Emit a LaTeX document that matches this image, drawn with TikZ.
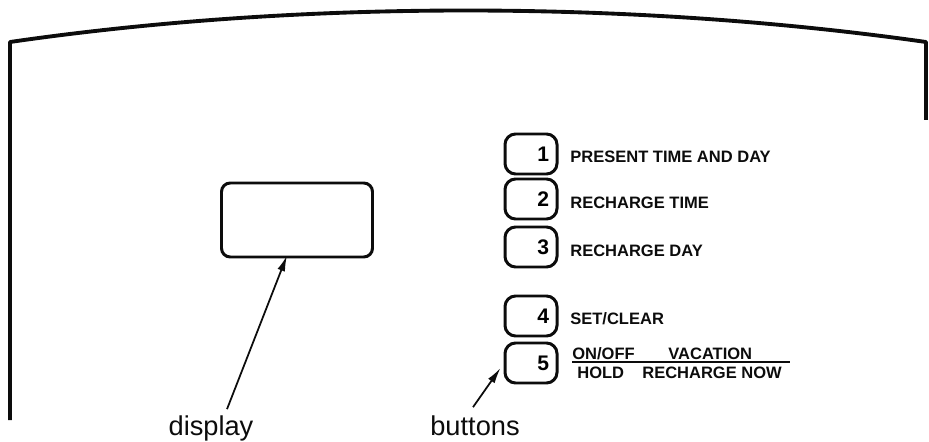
\documentclass[tikz,border=0pt]{standalone}
\usepackage{fontspec}
\setmainfont{Liberation Sans}
\usepackage{xcolor}
\usetikzlibrary{calc,positioning,arrows.meta}
\definecolor{inkcolor}{RGB}{12,12,12}

\tikzset{
  panel/.style={line width=2.2pt, draw=inkcolor, line join=round},
  dispbox/.style={draw=inkcolor, line width=1.7pt, rounded corners=5pt,
    minimum width=151*0.02cm, minimum height=74*0.02cm, inner sep=0pt},
  keybox/.style={draw=inkcolor, line width=1.7pt, rounded corners=6pt,
    minimum width=52*0.02cm, minimum height=40*0.02cm, inner sep=0pt,
    font=\fontsize{12}{12}\selectfont\bfseries, align=right,
    text width=36*0.02cm},
  keytext/.style={anchor=west, inner sep=0pt,
    font=\fontsize{9.4}{10}\selectfont\bfseries, text=inkcolor},
  callout/.style={anchor=base, font=\fontsize{15.5}{16}\selectfont,
    text=inkcolor, inner sep=1pt},
  pointer/.style={-{Latex[length=9pt,width=4.5pt]}, line width=1pt, draw=inkcolor}
}

\begin{document}
\begin{tikzpicture}[x=0.02cm, y=-0.02cm]
  \useasboundingbox (0,0) rectangle (929,442);

  % Outline of the panel
  \draw[panel] (10,420) -- (10,42)
    .. controls (300,0) and (630,0) .. (926,42) -- (926,120);

  % Display window
  \node[dispbox] (disp) at (297,220) {};

  % Keys
  \foreach \n/\y in {1/154, 2/199, 3/247, 4/316, 5/363} {
    \node[keybox] (key\n) at (531,\y) {\n};
  }

  % Key functions
  \node[keytext] (txt1) at (570,157) {PRESENT TIME AND DAY};
  \node[keytext] (txt2) at (570,203) {RECHARGE TIME};
  \node[keytext] (txt3) at (570,251) {RECHARGE DAY};
  \node[keytext] (txt4) at (570,319) {SET/CLEAR};

  % Key 5: two functions above and below a line
  \node[keytext] (onoff) at (572,354) {ON/OFF};
  \node[keytext] (vacation) at (668,354) {VACATION};
  \node[keytext] (hold) at (577,373) {HOLD};
  \node[keytext] (rchnow) at (642,373) {RECHARGE NOW};
  \coordinate (barend) at (790,362);
  \draw[line width=1.1pt, inkcolor] (onoff.west |- barend) -- (barend);

  % Callouts
  \node[callout] (dlbl) at (211,435) {display};
  \node[callout] (blbl) at (475,435) {buttons};
  \draw[pointer] ($(dlbl.north)+(16,-4)$) -- ($(disp.south)+(-10,-3)$);
  \draw[pointer] ($(blbl.north)+(-2,-6)$) -- ($(key5.west)+(-3,5)$);
\end{tikzpicture}
\end{document}
